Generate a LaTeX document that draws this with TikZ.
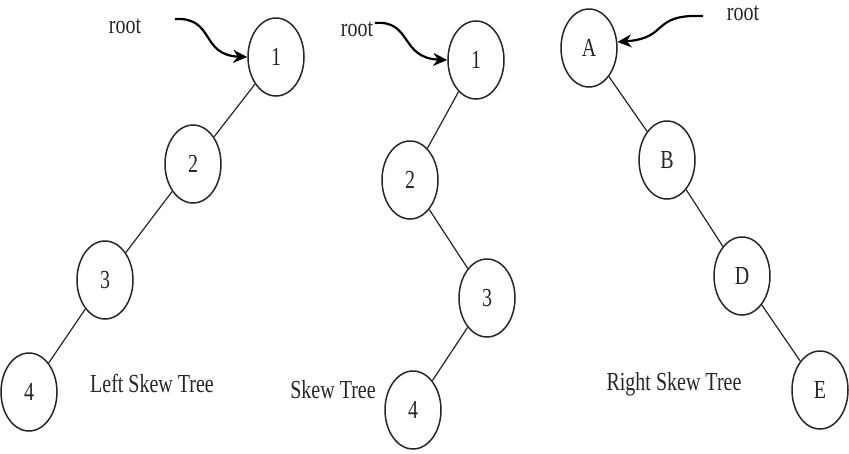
\documentclass[tikz,border=0pt]{standalone}
\usepackage{fontspec}
\setmainfont{Liberation Serif}
\usetikzlibrary{shapes.geometric,arrows.meta}
\newcommand{\tallt}[1]{\scalebox{1}[1.3]{#1}}
\begin{document}
\begin{tikzpicture}[x=1pt,y=-1pt,
  tnode/.style={draw=black!85,line width=1.5pt,ellipse,minimum width=56pt,minimum height=78pt,inner sep=0pt,font=\fontsize{20}{22}\selectfont,text=black!85},
  edge/.style={draw=black!85,line width=1.2pt},
  rootarrow/.style={draw=black,line width=2.2pt,-{Stealth[length=14pt,width=13pt]}},
  lbl/.style={font=\fontsize{20}{22}\selectfont,text=black!85,inner sep=0pt}]
\useasboundingbox (0,0) rectangle (849,453);
% left skew tree
\node[tnode] (l1) at (276,57) {\tallt{1}};
\node[tnode] (l2) at (193,164) {\tallt{2}};
\node[tnode] (l3) at (105,280) {\tallt{3}};
\node[tnode] (l4) at (29,392) {\tallt{4}};
\draw[edge] (l1) -- (l2);
\draw[edge] (l2) -- (l3);
\draw[edge] (l3) -- (l4);
% skew tree
\node[tnode] (m1) at (476,60) {\tallt{1}};
\node[tnode] (m2) at (410,180) {\tallt{2}};
\node[tnode] (m3) at (487,298) {\tallt{3}};
\node[tnode] (m4) at (413,410) {\tallt{4}};
\draw[edge] (m1) -- (m2);
\draw[edge] (m2) -- (m3);
\draw[edge] (m3) -- (m4);
% right skew tree
\node[tnode] (rA) at (589,48) {\tallt{A}};
\node[tnode] (rB) at (667,160) {\tallt{B}};
\node[tnode] (rD) at (742,276) {\tallt{D}};
\node[tnode] (rE) at (820,390) {\tallt{E}};
\draw[edge] (rA) -- (rB);
\draw[edge] (rB) -- (rD);
\draw[edge] (rD) -- (rE);
% root labels and arrows
\node[lbl] (lr) at (125,26) {\tallt{root}};
\node[lbl] (mr) at (357,29) {\tallt{root}};
\node[lbl] (rr) at (743,13) {\tallt{root}};
\coordinate (la) at (175,19);
\coordinate (ma) at (375,23);
\coordinate (ra) at (703,16);
\draw[rootarrow] (la) .. controls (215,17) and (200,55) .. (l1.west);
\draw[rootarrow] (ma) .. controls (412,20) and (400,58) .. (m1.west);
\draw[rootarrow] (ra) .. controls (650,14) and (670,38) .. (rA.12);
% captions
\node[lbl] (cl) at (152,383) {\tallt{Left Skew Tree}};
\node[lbl] (cm) at (333,390) {\tallt{Skew Tree}};
\node[lbl] (cr) at (674,384) {\tallt{Right Skew Tree}};
\end{tikzpicture}
\end{document}
